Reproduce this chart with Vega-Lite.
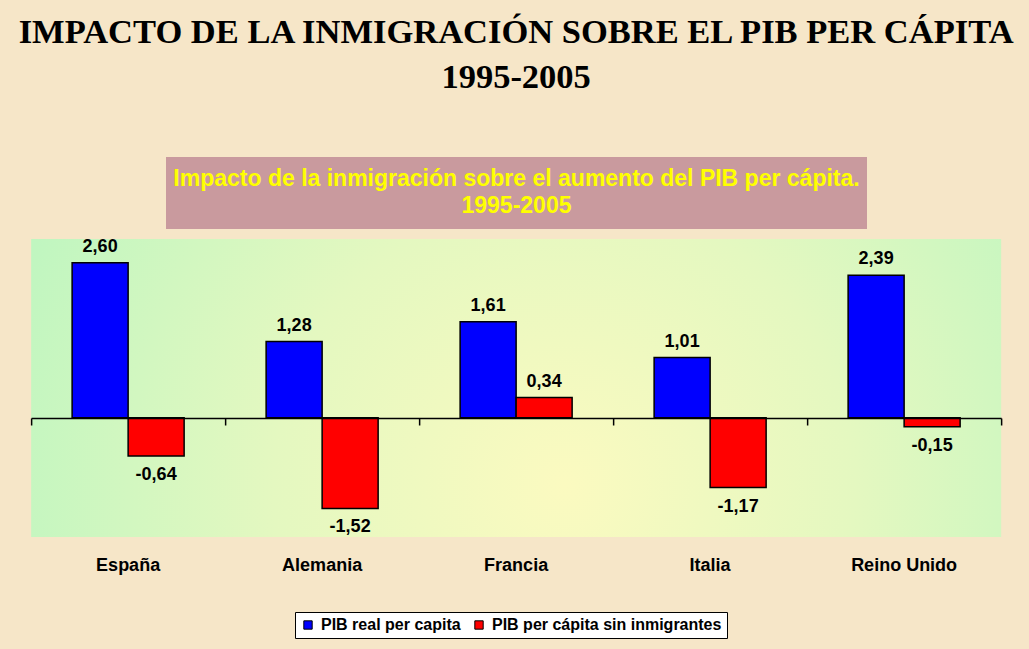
{
  "$schema": "https://vega.github.io/schema/vega-lite/v6.json",
  "background": "#f6e6c8",
  "padding": {"left": 16, "top": 14, "right": 17, "bottom": 12},
  "title": {
    "text": ["IMPACTO DE LA INMIGRACIÓN SOBRE EL PIB PER CÁPITA", "1995-2005"],
    "font": "Liberation Serif",
    "fontSize": 34.5,
    "fontWeight": "bold",
    "color": "#000000",
    "lineHeight": 45,
    "anchor": "middle",
    "offset": 62
  },
  "config": {
    "locale": {"number": {"decimal": ",", "thousands": ".", "grouping": [3], "currency": ["", " €"], "minus": "-"}},
    "view": {"stroke": null},
    "concat": {"spacing": 8}
  },
  "data": {
    "values": [
      {"pais": "España", "serie": "PIB real per capita", "valor": 2.60},
      {"pais": "España", "serie": "PIB per cápita sin inmigrantes", "valor": -0.64},
      {"pais": "Alemania", "serie": "PIB real per capita", "valor": 1.28},
      {"pais": "Alemania", "serie": "PIB per cápita sin inmigrantes", "valor": -1.52},
      {"pais": "Francia", "serie": "PIB real per capita", "valor": 1.61},
      {"pais": "Francia", "serie": "PIB per cápita sin inmigrantes", "valor": 0.34},
      {"pais": "Italia", "serie": "PIB real per capita", "valor": 1.01},
      {"pais": "Italia", "serie": "PIB per cápita sin inmigrantes", "valor": -1.17},
      {"pais": "Reino Unido", "serie": "PIB real per capita", "valor": 2.39},
      {"pais": "Reino Unido", "serie": "PIB per cápita sin inmigrantes", "valor": -0.15}
    ]
  },
  "center": true,
  "vconcat": [
    {
      "width": 701,
      "height": 72,
      "view": {"fill": "#c99a9e", "stroke": null},
      "data": {"values": [{"t": ["Impacto de la inmigración sobre el aumento del PIB per cápita.", "1995-2005"]}]},
      "mark": {
        "type": "text",
        "font": "Liberation Sans",
        "fontWeight": "bold",
        "fontSize": 23,
        "color": "#ffff00",
        "lineHeight": 27,
        "align": "center",
        "baseline": "middle",
        "dy": -14
      },
      "encoding": {"text": {"field": "t"}}
    },
    {
      "width": 970,
      "height": 298,
      "view": {
        "stroke": null,
        "fill": {
          "gradient": "radial",
          "x1": 0.55, "y1": 0.6, "r1": 0,
          "x2": 0.55, "y2": 0.6, "r2": 0.6,
          "stops": [
            {"offset": 0, "color": "#fbfac0"},
            {"offset": 0.5, "color": "#e4f8c0"},
            {"offset": 1, "color": "#c0f6c0"}
          ]
        }
      },
      "layer": [
        {
          "mark": {"type": "bar", "stroke": "#000000", "strokeWidth": 1.5},
          "encoding": {
            "x": {
              "field": "pais", "type": "nominal", "sort": null,
              "scale": {"paddingInner": 0, "paddingOuter": 0},
              "axis": {
                "orient": "bottom", "offset": -119, "labels": false, "title": null,
                "domain": true, "domainColor": "#000000", "domainWidth": 1.5,
                "ticks": true, "tickColor": "#000000", "tickWidth": 1.5, "tickSize": 7,
                "bandPosition": 1, "tickExtra": true, "zindex": 1
              }
            },
            "xOffset": {
              "field": "serie", "type": "nominal",
              "sort": ["PIB real per capita", "PIB per cápita sin inmigrantes"],
              "scale": {"paddingInner": 0, "paddingOuter": 0.732}
            },
            "y": {
              "field": "valor", "type": "quantitative",
              "scale": {"domain": [-2, 3], "nice": false, "zero": true},
              "axis": null
            },
            "color": {
              "field": "serie", "type": "nominal",
              "sort": ["PIB real per capita", "PIB per cápita sin inmigrantes"],
              "scale": {"range": ["#0000ff", "#ff0000"]},
              "legend": {
                "title": null,
                "orient": "none",
                "legendX": 264,
                "legendY": 455,
                "direction": "horizontal",
                "fillColor": "#ffffff",
                "strokeColor": "#000000",
                "padding": 5,
                "symbolType": "square",
                "symbolSize": 70,
                "symbolStrokeColor": "#000000",
                "symbolStrokeWidth": 1,
                "symbolOpacity": 1,
                "labelFont": "Liberation Sans",
                "labelFontWeight": "bold",
                "labelFontSize": 16,
                "labelColor": "#000000",
                "labelLimit": 400,
                "columnPadding": 10,
                "labelOffset": 5
              }
            }
          }
        },
        {
          "transform": [{"filter": "datum.valor >= 0"}],
          "mark": {"type": "text", "font": "Liberation Sans", "fontWeight": "bold", "fontSize": 18, "color": "#000000", "baseline": "bottom", "dy": -7},
          "encoding": {
            "x": {"field": "pais", "type": "nominal", "sort": null,
              "axis": {"orient": "bottom", "labels": true, "title": null, "domain": false, "ticks": false, "tickSize": 0, "labelPadding": 19, "labelFont": "Liberation Sans", "labelFontWeight": "bold", "labelFontSize": 18, "labelColor": "#000000", "labelAngle": 0}},
            "xOffset": {"field": "serie", "type": "nominal", "sort": ["PIB real per capita", "PIB per cápita sin inmigrantes"]},
            "y": {"field": "valor", "type": "quantitative"},
            "text": {"field": "valor", "type": "quantitative", "format": ".2f"}
          }
        },
        {
          "transform": [{"filter": "datum.valor < 0"}],
          "mark": {"type": "text", "font": "Liberation Sans", "fontWeight": "bold", "fontSize": 18, "color": "#000000", "baseline": "top", "dy": 10},
          "encoding": {
            "x": {"field": "pais", "type": "nominal", "sort": null, "axis": null},
            "xOffset": {"field": "serie", "type": "nominal", "sort": ["PIB real per capita", "PIB per cápita sin inmigrantes"]},
            "y": {"field": "valor", "type": "quantitative"},
            "text": {"field": "valor", "type": "quantitative", "format": ".2f"}
          }
        }
      ],
      "resolve": {"axis": {"x": "independent"}}
    }
  ]
}
